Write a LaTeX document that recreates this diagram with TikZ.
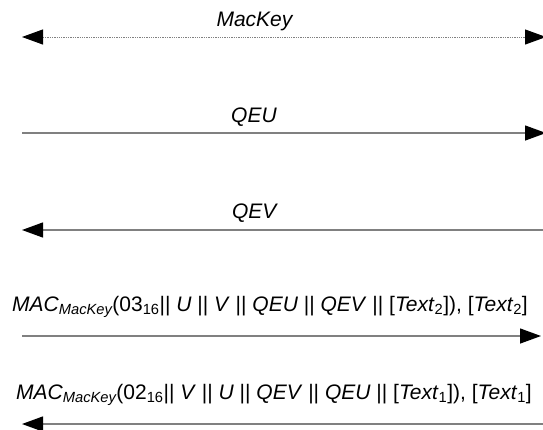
\documentclass[tikz,border=0pt]{standalone}
\usepackage{fontspec}
\setmainfont{Liberation Sans}
\usetikzlibrary{arrows.meta}

\begin{document}
\begin{tikzpicture}[
  x=1pt, y=1pt,
  font=\fontsize{21}{24}\selectfont,
  lbl/.style={inner sep=0pt, anchor=base},
  msg/.style={draw=black!50, line width=1.3pt},
  tip/.style={-{Triangle[length=21pt,width=15pt,black]}},
  tips/.style={{Triangle[length=21pt,width=15pt,black]}-{Triangle[length=21pt,width=15pt,black]}}
]
\useasboundingbox (0,0) rectangle (543,-429);
% message lines
\coordinate (k1) at (22,-37);   \coordinate (k2) at (546,-37);
\coordinate (u1) at (22,-133);  \coordinate (u2) at (546,-133);
\coordinate (v1) at (22,-230);  \coordinate (v2) at (545,-230);
\coordinate (t1) at (22,-336);  \coordinate (t2) at (541,-336);
\coordinate (s1) at (22,-424);  \coordinate (s2) at (545,-424);
\draw[msg, tips, densely dotted, line width=1pt] (k1) -- (k2);
\draw[msg, tip] (u1) -- (u2);
\draw[msg, tip] (v2) -- (v1);
\draw[msg, tip] (t1) -- (t2);
\draw[msg, tip] (s2) -- (s1);
% labels
\node[lbl] (kmac) at (255,-26) {\textit{MacKey}};
\node[lbl] (qeu) at (254,-122) {\textit{QEU}};
\node[lbl] (qev) at (255,-218) {\textit{QEV}};
\node[lbl] (tag2) at (270,-311) {\textit{MAC\textsubscript{MacKey}}(03\textsubscript{16}|| \textit{U} || \textit{V} || \textit{QEU} || \textit{QEV} || [\textit{Text}\textsubscript{2}]), [\textit{Text}\textsubscript{2}]};
\node[lbl] (tag1) at (274,-399) {\textit{MAC\textsubscript{MacKey}}(02\textsubscript{16}|| \textit{V} || \textit{U} || \textit{QEV} || \textit{QEU} || [\textit{Text}\textsubscript{1}]), [\textit{Text}\textsubscript{1}]};
\end{tikzpicture}
\end{document}
